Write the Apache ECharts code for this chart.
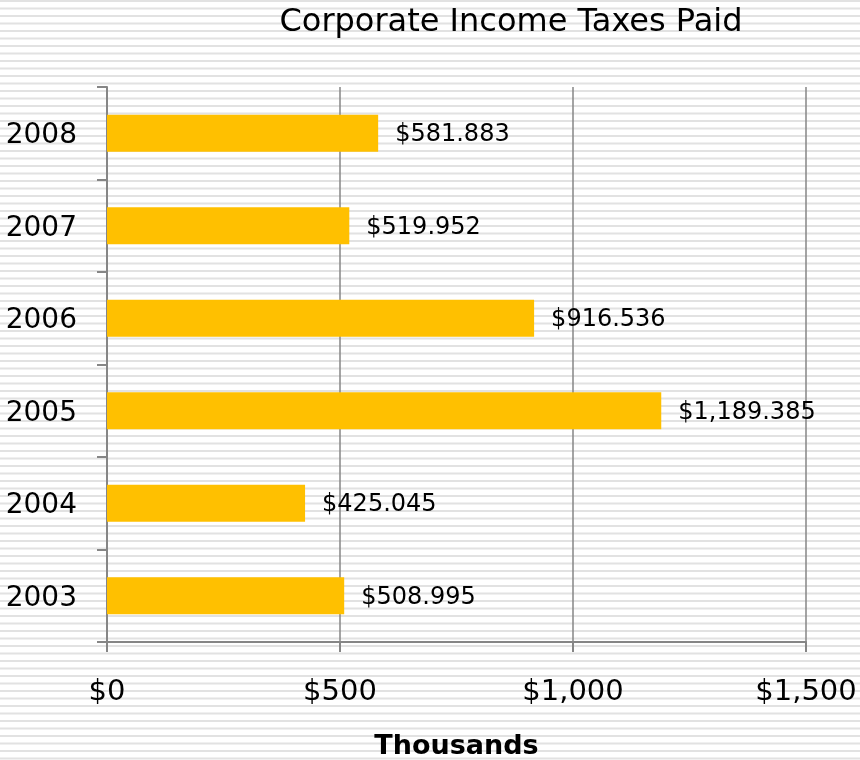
<!DOCTYPE html>
<html>
<head>
<meta charset="utf-8">
<style>
  html, body { margin: 0; padding: 0; background: #fff; }
  #chart { width: 860px; height: 760px; }
</style>
<script src="https://cdn.jsdelivr.net/npm/echarts@6/dist/echarts.min.js"></script>
</head>
<body>
<div id="chart"></div>
<script>
// Corporate income taxes paid per year, in thousands of dollars
const years = ['2003', '2004', '2005', '2006', '2007', '2008'];
const taxesPaid = [508.995, 425.045, 1189.385, 916.536, 519.952, 581.883];
const axisTicks = [0, 500, 1000, 1500];

// Striped backdrop: thin light-grey horizontal lines
function stripePattern() {
  const c = document.createElement('canvas');
  c.width = 8; c.height = 15;
  const ctx = c.getContext('2d');
  ctx.fillStyle = '#ffffff';
  ctx.fillRect(0, 0, 8, 15);
  ctx.fillStyle = '#e2e2e2';
  ctx.fillRect(0, 0, 8, 2);
  ctx.fillRect(0, 7.5, 8, 2);
  return c;
}

function money(v, decimals) {
  return '$' + v.toLocaleString('en-US', {
    minimumFractionDigits: decimals, maximumFractionDigits: decimals
  });
}

const FONT = 'DejaVu Sans';
const chart = echarts.init(document.getElementById('chart'));
chart.setOption({
  backgroundColor: { image: stripePattern(), repeat: 'repeat' },
  animation: false,
  textStyle: { fontFamily: FONT },
  title: {
    text: 'Corporate Income Taxes Paid',
    left: 506, top: 2, textAlign: 'center',
    textStyle: { fontFamily: FONT, fontSize: 32, fontWeight: 'normal', color: '#000' }
  },
  grid: {
    left: 107, right: 54, top: 87, bottom: 118,
    containLabel: false, outerBoundsMode: 'none'
  },
  xAxis: {
    type: 'value',
    min: axisTicks[0], max: axisTicks[axisTicks.length - 1], interval: 500,
    name: 'Thousands', nameLocation: 'middle', nameGap: 91,
    nameTextStyle: { fontFamily: FONT, fontSize: 27, fontWeight: 'bold', color: '#000' },
    axisLine: { show: true, lineStyle: { color: '#868686', width: 2 } },
    axisTick: { show: true, length: 10, lineStyle: { color: '#868686', width: 2 } },
    axisLabel: {
      margin: 36, fontSize: 29, color: '#000', fontFamily: FONT,
      formatter: v => money(v, 0)
    },
    splitLine: { show: true, lineStyle: { color: '#868686', width: 1.5 } }
  },
  yAxis: {
    type: 'category', data: years, boundaryGap: true,
    axisLine: { show: true, lineStyle: { color: '#868686', width: 2 } },
    axisTick: { show: true, length: 10, lineStyle: { color: '#868686', width: 2 } },
    axisLabel: {
      margin: 30, color: '#000',
      formatter: v => '{yr|' + v + '}',
      rich: {
        yr: { fontSize: 28, fontFamily: FONT, color: '#000', padding: [5, 0, 0, 0] }
      }
    },
    splitLine: { show: false }
  },
  series: [{
    type: 'bar',
    data: taxesPaid,
    barWidth: '40%',
    itemStyle: { color: '#FFC000' },
    label: {
      show: true, position: 'right', distance: 17, offset: [0, 2],
      fontSize: 24, color: '#000', fontFamily: FONT,
      formatter: p => money(p.value, 3)
    }
  }]
});
</script>
</body>
</html>
